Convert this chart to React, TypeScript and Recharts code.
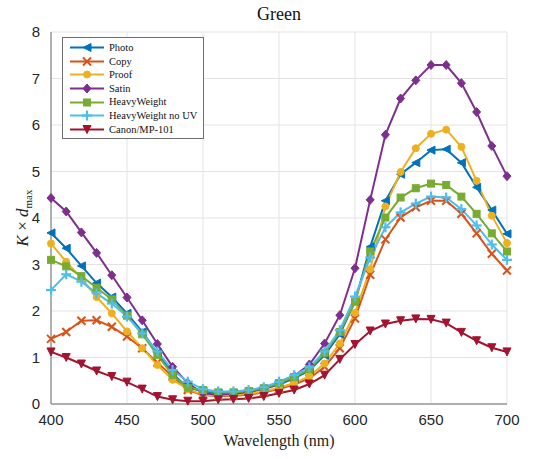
import { LineChart, Line, XAxis, YAxis, CartesianGrid, Legend } from 'recharts';

// wavelength samples (nm)
const wavelengths = [
  400, 410, 420, 430, 440, 450, 460, 470, 480, 490, 500, 510, 520, 530, 540, 550,
  560, 570, 580, 590, 600, 610, 620, 630, 640, 650, 660, 670, 680, 690, 700,
];

const photo = [3.68, 3.35, 2.97, 2.6, 2.3, 1.95, 1.55, 1.1, 0.65, 0.35, 0.28, 0.23, 0.23, 0.26, 0.32, 0.42, 0.55, 0.72, 1.05, 1.5, 2.2, 3.38, 4.37, 4.94, 5.19, 5.46, 5.48, 5.19, 4.66, 4.17, 3.66];
const copy = [1.4, 1.55, 1.79, 1.8, 1.66, 1.45, 1.2, 0.89, 0.59, 0.3, 0.19, 0.17, 0.18, 0.2, 0.25, 0.32, 0.42, 0.55, 0.8, 1.2, 1.84, 2.78, 3.54, 4.01, 4.23, 4.37, 4.37, 4.09, 3.67, 3.23, 2.87];
const proof = [3.45, 3.06, 2.7, 2.3, 1.95, 1.56, 1.2, 0.84, 0.52, 0.32, 0.2, 0.19, 0.2, 0.22, 0.27, 0.35, 0.45, 0.6, 0.87, 1.3, 1.96, 2.9, 4.25, 4.99, 5.5, 5.81, 5.9, 5.53, 4.8, 4.05, 3.46];
const satin = [4.43, 4.14, 3.69, 3.25, 2.77, 2.29, 1.8, 1.29, 0.8, 0.45, 0.23, 0.2, 0.22, 0.26, 0.33, 0.45, 0.6, 0.85, 1.3, 1.91, 2.92, 4.39, 5.79, 6.57, 6.96, 7.29, 7.29, 6.9, 6.28, 5.55, 4.9];
const heavy = [3.1, 2.96, 2.75, 2.5, 2.25, 1.9, 1.5, 1.05, 0.62, 0.35, 0.3, 0.25, 0.25, 0.28, 0.34, 0.45, 0.58, 0.75, 1.1, 1.55, 2.2, 3.28, 4.01, 4.44, 4.64, 4.74, 4.71, 4.46, 4.09, 3.67, 3.28];
const heavyNoUv = [2.45, 2.79, 2.63, 2.38, 2.16, 1.88, 1.52, 1.13, 0.73, 0.48, 0.32, 0.27, 0.27, 0.3, 0.36, 0.48, 0.62, 0.79, 1.13, 1.59, 2.31, 3.15, 3.8, 4.12, 4.31, 4.46, 4.44, 4.19, 3.84, 3.43, 3.1];
const canon = [1.12, 1.0, 0.86, 0.71, 0.59, 0.47, 0.32, 0.16, 0.09, 0.06, 0.06, 0.09, 0.1, 0.12, 0.16, 0.23, 0.3, 0.43, 0.62, 0.96, 1.28, 1.57, 1.72, 1.79, 1.83, 1.82, 1.74, 1.54, 1.36, 1.21, 1.12];

const xTicks = [400, 450, 500, 550, 600, 650, 700];
const yTicks = [0, 1, 2, 3, 4, 5, 6, 7, 8];

const series = [
  { key: 'photo', name: 'Photo', color: '#0072BD', shape: 'triLeft', values: photo },
  { key: 'copy', name: 'Copy', color: '#D95319', shape: 'cross', values: copy },
  { key: 'proof', name: 'Proof', color: '#EDB120', shape: 'circle', values: proof },
  { key: 'satin', name: 'Satin', color: '#7E2F8E', shape: 'diamond', values: satin },
  { key: 'heavy', name: 'HeavyWeight', color: '#77AC30', shape: 'square', values: heavy },
  { key: 'heavyNoUv', name: 'HeavyWeight no UV', color: '#4DBEEE', shape: 'plus', values: heavyNoUv },
  { key: 'canon', name: 'Canon/MP-101', color: '#A2142F', shape: 'triDown', values: canon },
];

const data = wavelengths.map((wl, i) => {
  const row: Record<string, number> = { wl };
  series.forEach((s) => {
    row[s.key] = s.values[i];
  });
  return row;
});

const AXIS = '#6e6e6e';
const GRID = '#e3e3e3';
const SERIF = '"Liberation Serif", "DejaVu Serif", serif';
const SANS = '"Liberation Sans", Arial, sans-serif';

function Marker({ cx, cy, shape, color, r = 4 }: { cx: number; cy: number; shape: string; color: string; r?: number }) {
  if (cx == null || cy == null) return null;
  switch (shape) {
    case 'triLeft':
      return <polygon points={`${cx - r},${cy} ${cx + r},${cy - r} ${cx + r},${cy + r}`} fill={color} stroke={color} />;
    case 'triDown':
      return <polygon points={`${cx - r},${cy - r} ${cx + r},${cy - r} ${cx},${cy + r}`} fill={color} stroke={color} />;
    case 'cross':
      return (
        <g stroke={color} strokeWidth={2}>
          <line x1={cx - r} y1={cy - r} x2={cx + r} y2={cy + r} />
          <line x1={cx - r} y1={cy + r} x2={cx + r} y2={cy - r} />
        </g>
      );
    case 'plus':
      return (
        <g stroke={color} strokeWidth={2.2}>
          <line x1={cx - r - 1} y1={cy} x2={cx + r + 1} y2={cy} />
          <line x1={cx} y1={cy - r - 1} x2={cx} y2={cy + r + 1} />
        </g>
      );
    case 'diamond':
      return <polygon points={`${cx},${cy - r - 0.5} ${cx + r},${cy} ${cx},${cy + r + 0.5} ${cx - r},${cy}`} fill={color} stroke={color} />;
    case 'square':
      return <rect x={cx - r + 0.5} y={cy - r + 0.5} width={2 * r - 1} height={2 * r - 1} fill={color} stroke={color} />;
    default:
      return <circle cx={cx} cy={cy} r={r - 0.5} fill={color} stroke={color} />;
  }
}

function LegendBox() {
  return (
    <div
      style={{
        background: '#fff',
        border: `1px solid ${AXIS}`,
        padding: '3px 6px 2px 4px',
        fontFamily: SERIF,
        fontSize: 10.5,
        color: '#111',
        lineHeight: '13.6px',
        textAlign: 'left',
      }}
    >
      {series.map((s) => (
        <div key={s.key} style={{ display: 'flex', alignItems: 'center', whiteSpace: 'nowrap' }}>
          <svg width={40} height={13} style={{ marginRight: 2 }}>
            <line x1={3} y1={6.5} x2={37} y2={6.5} stroke={s.color} strokeWidth={2} />
            <Marker cx={20} cy={6.5} shape={s.shape} color={s.color} />
          </svg>
          <span style={{ fontFamily: SERIF }}>{s.name}</span>
        </div>
      ))}
    </div>
  );
}

const YLabel = (props: any) => {
  const vb = props.viewBox || { y: 32, height: 372 };
  const cx = 28;
  const cy = vb.y + vb.height / 2;
  return (
    <text
      transform={`rotate(-90 ${cx} ${cy})`}
      x={cx}
      y={cy}
      textAnchor="middle"
      style={{ fontFamily: SERIF, fontSize: 17 }}
      fill="#222"
    >
      <tspan fontStyle="italic">K</tspan>
      <tspan> × </tspan>
      <tspan fontStyle="italic">d</tspan>
      <tspan fontSize={11} dy={4}>max</tspan>
    </text>
  );
};

const XLabel = (props: any) => {
  const vb = props.viewBox || { x: 51, y: 404, width: 456 };
  return (
    <text x={vb.x + vb.width / 2} y={446} textAnchor="middle" style={{ fontFamily: SERIF, fontSize: 16 }} fill="#222">
      Wavelength (nm)
    </text>
  );
};

const NoTick = () => <g />;

export default function App() {
  return (
    <div style={{ position: 'absolute', left: 0, top: 0, width: 540, height: 459, background: '#fff' }}>
      <div
        style={{
          position: 'absolute',
          left: 51,
          width: 456,
          top: 4,
          textAlign: 'center',
          fontFamily: SERIF,
          fontSize: 18,
          color: '#111',
        }}
      >
        Green
      </div>
      <LineChart width={540} height={459} data={data} margin={{ top: 32, right: 33, bottom: 0, left: 0 }}>
        <CartesianGrid stroke={GRID} strokeWidth={1} />
        <XAxis
          dataKey="wl"
          type="number"
          domain={[400, 700]}
          ticks={xTicks}
          height={55}
          axisLine={{ stroke: AXIS }}
          tickLine={false}
          tickMargin={4}
          tick={{ fontFamily: SANS, fontSize: 15, fill: '#262626' }}
          label={<XLabel />}
        />
        <XAxis
          xAxisId="top"
          orientation="top"
          dataKey="wl"
          type="number"
          domain={[400, 700]}
          ticks={xTicks}
          height={0}
          mirror
          tickSize={4}
          axisLine={{ stroke: AXIS }}
          tickLine={{ stroke: AXIS }}
          tick={<NoTick />}
        />
        <YAxis
          type="number"
          domain={[0, 8]}
          ticks={yTicks}
          width={51}
          axisLine={{ stroke: AXIS }}
          tickLine={false}
          tickMargin={5}
          tick={{ fontFamily: SANS, fontSize: 15, fill: '#262626' }}
          label={<YLabel />}
        />
        <YAxis
          yAxisId="right"
          orientation="right"
          type="number"
          domain={[0, 8]}
          ticks={yTicks}
          width={0}
          mirror
          tickSize={4}
          axisLine={{ stroke: AXIS }}
          tickLine={{ stroke: AXIS }}
          tick={<NoTick />}
        />
        {series.map((s) => (
          <Line
            key={s.key}
            dataKey={s.key}
            name={s.name}
            stroke={s.color}
            strokeWidth={2}
            isAnimationActive={false}
            dot={(p: any) => <Marker key={`${s.key}-${p.index}`} cx={p.cx} cy={p.cy} shape={s.shape} color={s.color} />}
            activeDot={false}
          />
        ))}
        <Legend
          layout="horizontal"
          align="center"
          verticalAlign="middle"
          content={<LegendBox />}
          wrapperStyle={{ left: 62, top: 37, width: 'auto' }}
        />
      </LineChart>
    </div>
  );
}
